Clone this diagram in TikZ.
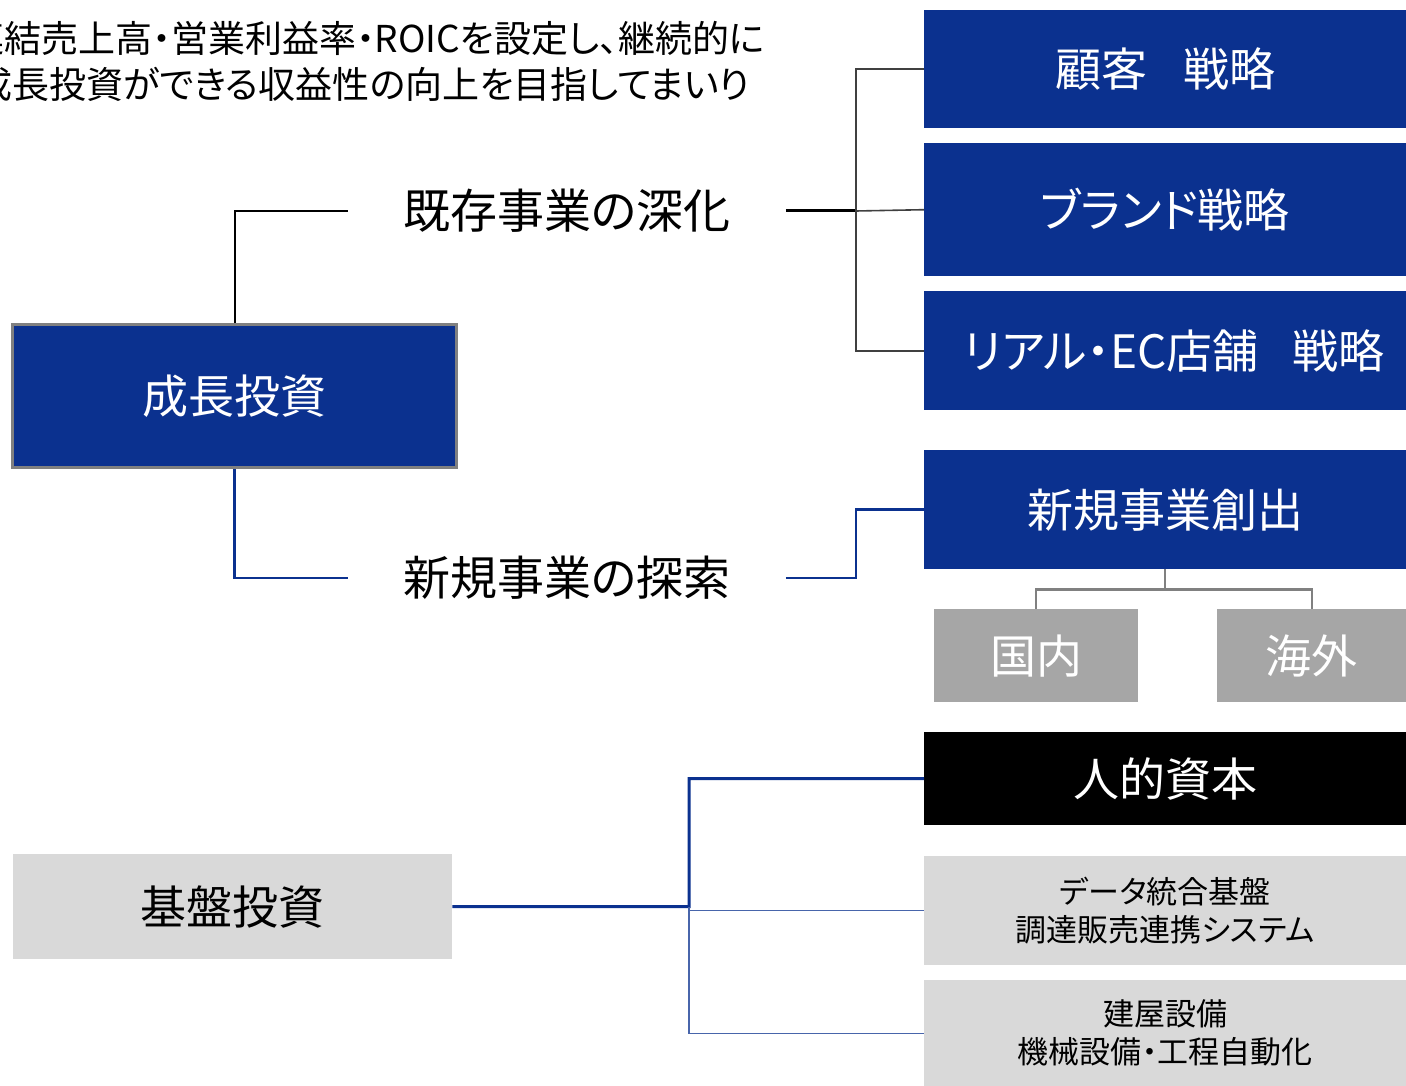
\documentclass[tikz,border=0pt]{standalone}
\usepackage{fontspec}
\setmainfont{Noto Sans CJK JP}[RawFeature=+palt]
\definecolor{navy}{RGB}{11,49,143}
\definecolor{boxgray}{RGB}{166,166,166}
\definecolor{lightgray}{RGB}{217,217,217}
\definecolor{linegray}{RGB}{64,64,64}
\definecolor{midgray}{RGB}{128,128,128}
\newcommand{\bigjp}{\fontsize{46}{54}\selectfont}
\newcommand{\labeljp}{\fontsize{47}{54}\selectfont}
\newcommand{\smalljp}{\fontsize{31}{38}\selectfont}
\newcommand{\topjp}{\fontsize{37}{45}\selectfont}
\begin{document}
\begin{tikzpicture}[x=1pt,y=-1pt,
  box/.style={anchor=north west, inner sep=0pt, draw=none, align=center},
  navybox/.style={box, fill=navy, text=white, font=\bigjp},
  graybox/.style={box, fill=boxgray, text=white, font=\bigjp},
  lightbox/.style={box, fill=lightgray, text=black},
  label/.style={inner xsep=55pt, inner ysep=0pt, font=\labeljp},
  blk/.style={draw=black, line width=2pt},
  nv/.style={draw=navy, line width=2.5pt},
  nvthin/.style={draw=navy!75, line width=1.3pt},
  gl/.style={draw=linegray, line width=1.6pt},
  mg/.style={draw=midgray, line width=2.2pt}]
\useasboundingbox (0,0) rectangle (1406,1086);
\clip (0,0) rectangle (1406,1086);

% top text
\node[anchor=east, inner sep=0pt, font=\topjp] (t1) at (765,38) {連結売上高・営業利益率・ROICを設定し、継続的に};
\node[anchor=east, inner sep=0pt, font=\topjp] (t2) at (750,84) {成長投資ができる収益性の向上を目指してまいり};

% left boxes
\node[navybox, minimum width=444pt, minimum height=143pt, draw=midgray, line width=3pt] (growth) at (11,323) {成長投資};
\node[lightbox, minimum width=439pt, minimum height=105pt, font=\bigjp] (kiban) at (13,854) {基盤投資};

% middle labels
\node[label] (kizon) at (567,211) {既存事業の深化};
\node[label] (shinki) at (567,578) {新規事業の探索};

% right boxes
\node[navybox, minimum width=482pt, minimum height=118pt] (kokyaku) at (924,10) {顧客\hspace{36pt}戦略};
\node[navybox, minimum width=482pt, minimum height=133pt] (brand) at (924,143) {ブランド戦略};
\node[navybox, minimum width=482pt, minimum height=119pt] (real) at (924,291) {\hspace{18pt}リアル・EC店舗\hspace{34pt}戦略};
\node[navybox, minimum width=482pt, minimum height=119pt] (sozo) at (924,450) {新規事業創出};
\node[graybox, minimum width=204pt, minimum height=93pt] (kokunai) at (934,609) {国内};
\node[graybox, minimum width=189pt, minimum height=93pt] (kaigai) at (1217,609) {海外};
\node[box, fill=black, text=white, font=\bigjp, minimum width=482pt, minimum height=93pt] (jinteki) at (924,732) {人的資本};
\node[lightbox, minimum width=482pt, minimum height=109pt, font=\smalljp] (data) at (924,856) {データ統合基盤\\調達販売連携システム};
\node[lightbox, minimum width=482pt, minimum height=106pt, font=\smalljp] (tateya) at (924,980) {建屋設備\\機械設備・工程自動化};

% connectors
\coordinate (s1) at (856,211);
\coordinate (s2) at (856,578);
\coordinate (s3) at (689,906.5);

\draw[blk] (growth.north) |- (kizon.west);
\draw[nv] (growth.south) |- (shinki.west);

\draw[draw=black, line width=3pt] (kizon.east) -- (s1);
\draw[gl] (s1) -- (brand.west);
\draw[gl] (kokyaku.west) -| (s1) |- (real.west);

\draw[nv] (shinki.east) -- (s2) |- (sozo.west);

\draw[mg] (sozo.south) -- ++(0,20) coordinate (s4);
\draw[mg] (kokunai.north) |- (s4) -| (kaigai.north);

\draw[draw=navy, line width=3pt] (kiban.east) -- (s3) |- (jinteki.west);
\draw[nvthin] (data.west -| s3) -- (data.west);
\draw[nvthin] (s3) |- (tateya.west);
\end{tikzpicture}
\end{document}
